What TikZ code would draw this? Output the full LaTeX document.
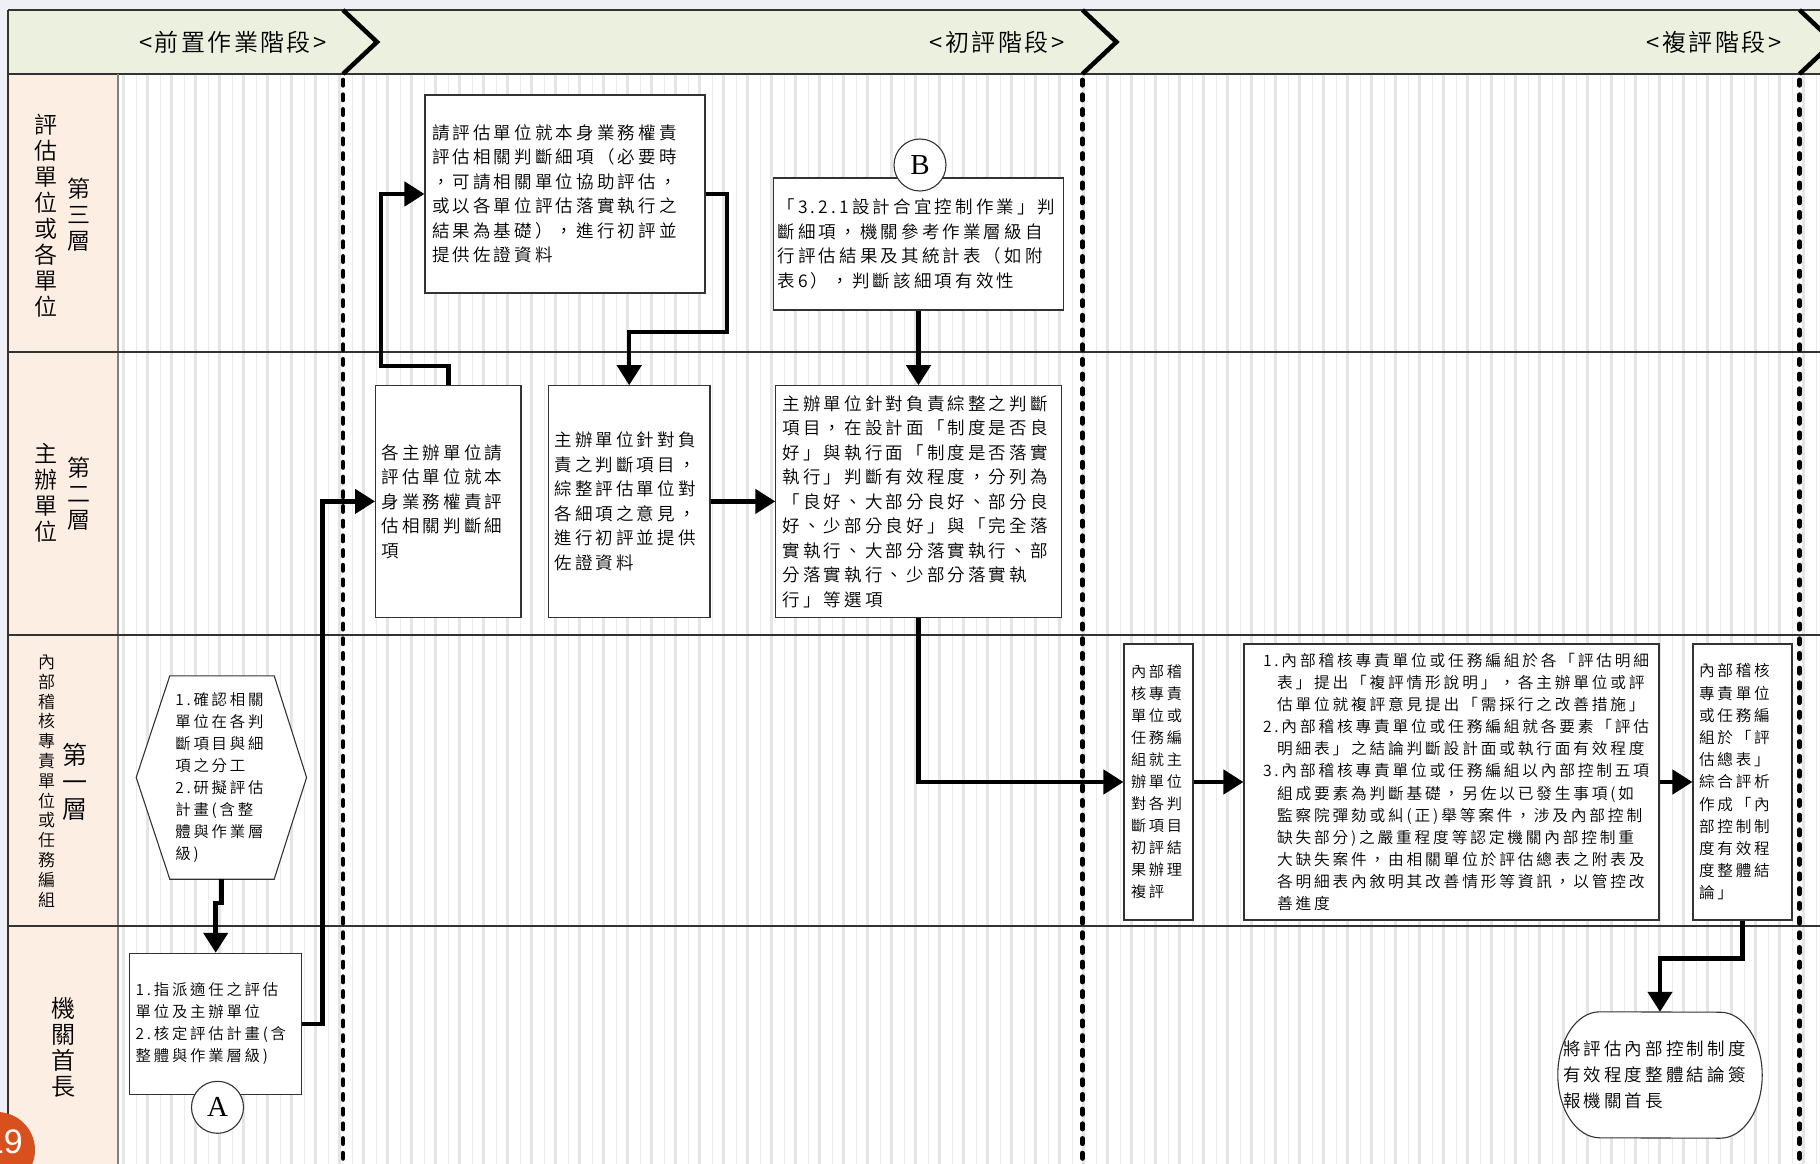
\documentclass[tikz,border=0pt]{standalone}
\usepackage{fontspec}
\setmainfont{Liberation Serif}
\newfontfamily\cjk{Noto Sans CJK TC DemiLight}[LetterSpace=18]
\newfontfamily\cjkh{Noto Sans CJK TC DemiLight}[LetterSpace=10]
\newfontfamily\sansf{Liberation Sans}
\usetikzlibrary{arrows.meta}
\definecolor{bgout}{HTML}{EEF0F5}
\definecolor{hdr}{HTML}{EBF0DF}
\definecolor{lanecol}{HTML}{FDEEE4}
\definecolor{stripe}{HTML}{E5E5E5}
\definecolor{stripethin}{HTML}{EBEBEB}
\definecolor{frame}{HTML}{333333}
\definecolor{badge}{HTML}{D8501E}
\newcommand\fs[2]{\fontsize{#1}{#2}\selectfont}
\begin{document}
\begin{tikzpicture}[x=1pt,y=-1pt,
  box/.style={draw=frame, line width=1.1pt, fill=white, rectangle, align=left, inner ysep=0pt, font={\cjk\fs{17.5}{24.5}}},
  smallbox/.style={box, font={\cjk\fs{15.4}{22}}},
  plain/.style={rectangle, align=left, inner ysep=0pt, font={\cjk\fs{15.4}{22}}},
  flow/.style={line width=4.5pt, -{Triangle[length=20pt,width=24pt]}, line join=miter},
  phaseline/.style={line width=4.7pt, dash pattern=on 5.3pt off 9.4pt, line cap=round},
  chev/.style={line width=4.5pt, line join=miter},
  lanelbl/.style={align=center, inner sep=0pt},
  hdrtxt/.style={inner sep=0pt, font={\cjkh\fs{24}{28}}},
  letter/.style={circle, draw=frame, line width=1.1pt, fill=white, minimum size=52pt, inner sep=0pt, font={\fs{29}{29}}}
]
\useasboundingbox (0,0) rectangle (1820,1164);
\clip (0,0) rectangle (1820,1164);
% backgrounds
\fill[bgout] (0,0) rectangle (1820,1164);
\fill[hdr] (8,10) rectangle (1820,74);
\fill[lanecol] (8,74) rectangle (118,1164);
\fill[white] (118,74) rectangle (1820,1164);
\foreach \x in {123.3,147.3,...,1820} {\fill[stripe] (\x-1.35,74) rectangle ++(2.7,1090);}
\foreach \x in {136.3,160.3,...,1820} {\fill[stripethin] (\x-0.5,74) rectangle ++(1,1090);}
% frame lines
\draw[frame, line width=1.3pt] (8,10) -- (1820,10);
\draw[frame, line width=1.3pt] (8,74) -- (1820,74);
\draw[frame, line width=1.3pt] (8,10) -- (8,1164);
\draw[gray, line width=1.2pt] (118,74) -- (118,1164);
\foreach \y in {352,635,926} {\draw[frame, line width=1.3pt] (8,\y) -- (1820,\y);}
% phase lines and chevrons
\foreach \x in {343,1082.4,1799.5} {
  \draw[phaseline] (\x,80) -- (\x,1164);
  \draw[chev] (\x,10) -- (\x+34,42) -- (\x,74);
}
% header texts
\node[hdrtxt] (h1) at (233,42) {<前置作業階段>};
\node[hdrtxt] (h2) at (997,42) {<初評階段>};
\node[hdrtxt] (h3) at (1714,42) {<複評階段>};
% lane labels
\node[lanelbl, font={\cjkh\fs{23}{26}}] (t1a) at (45.5,216) {評\\估\\單\\位\\或\\各\\單\\位};
\node[lanelbl, font={\cjkh\fs{23}{26}}] (t1b) at (79,215) {第\\三\\層};
\node[lanelbl, font={\cjkh\fs{23}{26}}] (t2a) at (45.5,493) {主\\辦\\單\\位};
\node[lanelbl, font={\cjkh\fs{23}{26}}] (t2b) at (79,494) {第\\二\\層};
\node[lanelbl, font={\cjkh\fs{17}{19.8}}] (t3a) at (46.7,781) {內\\部\\稽\\核\\專\\責\\單\\位\\或\\任\\務\\編\\組};
\node[lanelbl, font={\cjkh\fs{25}{27}}] (t3b) at (75,782) {第\\一\\層};
\node[lanelbl, font={\cjkh\fs{24}{26}}] (t4a) at (63,1047) {機\\關\\首\\長};
% boxes
\node[box, text width=266pt, inner xsep=7pt, minimum height=198pt] (b1) at (565,194) {請評估單位就本身業務權責\\評估相關判斷細項（必要時\\，可請相關單位協助評估，\\或以各單位評估落實執行之\\結果為基礎），進行初評並\\提供佐證資料};
\node[box, text width=282pt, inner xsep=4pt, minimum height=132pt] (b2) at (918.5,244) {「3.2.1設計合宜控制作業」判\\斷細項，機關參考作業層級自\\行評估結果及其統計表（如附\\表6），判斷該細項有效性};
\node[letter] (cB) at (920,165) {B};
\node[box, text width=133.4pt, inner xsep=6pt, minimum height=231.3pt] (b3) at (448.3,501.4) {各主辦單位請\\評估單位就本\\身業務權責評\\估相關判斷細\\項};
\node[box, text width=149.6pt, inner xsep=6pt, minimum height=231.3pt] (b4) at (629.2,501.4) {主辦單位針對負\\責之判斷項目，\\綜整評估單位對\\各細項之意見，\\進行初評並提供\\佐證資料};
\node[box, text width=272pt, inner xsep=6.7pt, minimum height=231.3pt] (b5) at (918.5,501.4) {主辦單位針對負責綜整之判斷\\項目，在設計面「制度是否良\\好」與執行面「制度是否落實\\執行」判斷有效程度，分列為\\「良好、大部分良好、部分良\\好、少部分良好」與「完全落\\實執行、大部分落實執行、部\\分落實執行、少部分落實執\\行」等選項};
% hexagon
\node[plain, text width=92pt, minimum width=170pt, minimum height=203pt, inner xsep=0pt] (hx) at (221.4,777.5) {};
\draw[frame, line width=1.1pt, fill=white] (hx.west) -- ([xshift=33.6pt]hx.north west) -- ([xshift=-32.4pt]hx.north east) -- (hx.east) -- ([xshift=-32.4pt]hx.south east) -- ([xshift=33.6pt]hx.south west) -- cycle;
\node[plain, text width=92pt, inner xsep=0pt] (hxt) at (hx.center) {1.確認相關\\單位在各判\\斷項目與細\\項之分工\\2.研擬評估\\計畫(含整\\體與作業層\\級)};
% lane 4 box
\node[smallbox, text width=160pt, inner xsep=6pt, minimum height=141pt] (b7) at (215.7,1023.8) {1.指派適任之評估\\單位及主辦單位\\2.核定評估計畫(含\\整體與作業層級)};
\node[letter] (cA) at (217.5,1107.3) {A};
% lane 3 review boxes
\node[box, font={\cjk\fs{15.2}{22}}, text width=55pt, inner xsep=7pt, minimum height=276pt] (b8) at (1158.5,782) {內部稽\\核專責\\單位或\\任務編\\組就主\\辦單位\\對各判\\斷項目\\初評結\\果辦理\\複評};
\node[box, font={\cjk\fs{15.7}{22.1}}, text width=391pt, inner xsep=12pt, minimum height=276pt] (b9) at (1451.5,782) {\hspace*{7pt}1.內部稽核專責單位或任務編組於各「評估明細\\\hspace*{21pt}表」提出「複評情形說明」，各主辦單位或評\\\hspace*{21pt}估單位就複評意見提出「需採行之改善措施」\\\hspace*{7pt}2.內部稽核專責單位或任務編組就各要素「評估\\\hspace*{21pt}明細表」之結論判斷設計面或執行面有效程度\\\hspace*{7pt}3.內部稽核專責單位或任務編組以內部控制五項\\\hspace*{21pt}組成要素為判斷基礎，另佐以已發生事項(如\\\hspace*{21pt}監察院彈劾或糾(正)舉等案件，涉及內部控制\\\hspace*{21pt}缺失部分)之嚴重程度等認定機關內部控制重\\\hspace*{21pt}大缺失案件，由相關單位於評估總表之附表及\\\hspace*{21pt}各明細表內敘明其改善情形等資訊，以管控改\\\hspace*{21pt}善進度};
\node[box, font={\cjk\fs{15.6}{22.2}}, text width=87pt, inner xsep=6pt, minimum height=276pt] (b10) at (1742.5,782) {內部稽核\\專責單位\\或任務編\\組於「評\\估總表」\\綜合評析\\作成「內\\部控制制\\度有效程\\度整體結\\論」};
% terminal
\node[rectangle, minimum width=204pt, minimum height=126pt, inner sep=0pt] (tm) at (1660,1075) {};
\draw[frame, line width=1.1pt, fill=white] ([xshift=42pt]tm.north west) arc[start angle=90, end angle=270, x radius=42pt, y radius=63pt] -- ([xshift=-42pt]tm.south east) arc[start angle=-90, end angle=90, x radius=42pt, y radius=63pt] -- cycle;
\node[plain, font={\cjk\fs{17.5}{25.8}}, text width=194pt, inner xsep=0pt] (tmt) at (tm.center) {將評估內部控制制度\\有效程度整體結論簽\\報機關首長};
% connectors
\draw[flow] (b7.east) -- ++(20.3,0) |- (b3.west);
\draw[flow] (b3.north) |- (380.8,366) |- (b1.west);
\draw[flow] (b1.east) -| (727,332) -| (b4.north);
\draw[flow] (b4.east) -- (b5.west);
\draw[flow] (b2.south) -- (b5.north);
\draw[flow] (b5.south) |- (b8.west);
\draw[flow] (b8.east) -- (b9.west);
\draw[flow] (b9.east) -- (b10.west);
\draw[flow] (b10.south) -- ++(0,38) -| (tm.north);
\draw[flow] (hx.south) -- ++(0,24) -| (b7.north);
% page badge
\fill[badge] (-3,1150) circle[radius=38pt];
\node[text=white, font={\sansf\fs{34}{34}}, inner sep=0pt] (pg) at (4,1142) {19};
\end{tikzpicture}
\end{document}
